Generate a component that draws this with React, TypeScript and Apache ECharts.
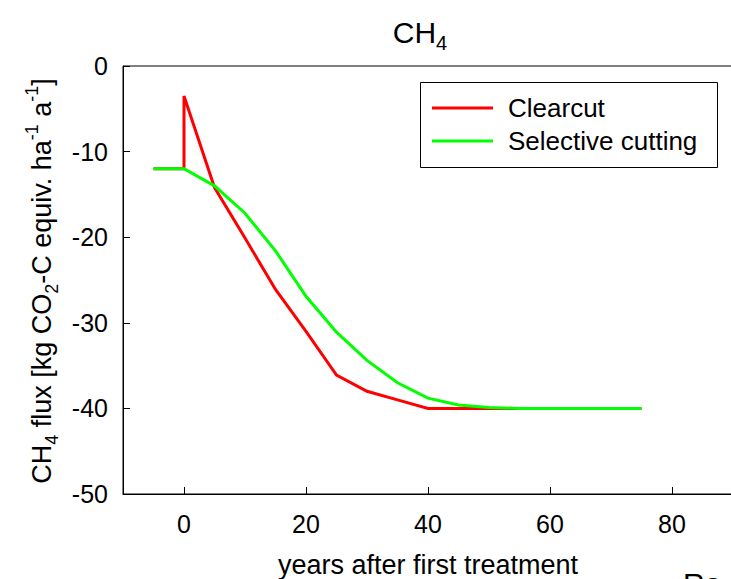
import React, { useEffect, useRef } from "react";
import * as echarts from "echarts";

const clearcutYears = [-5, 0, 0, 5, 10, 15, 20, 25, 30, 35, 40, 45, 50, 55, 60, 65, 70, 75];
const clearcutFlux = [-12, -12, -3.5, -14.2, -20.1, -26.1, -31, -36.1, -38, -39, -40, -40, -40, -40, -40, -40, -40, -40];
const selectiveYears = [-5, 0, 5, 10, 15, 20, 25, 30, 35, 40, 45, 50, 55, 60, 65, 70, 75];
const selectiveFlux = [-12, -12, -14, -17.2, -21.6, -26.9, -31.1, -34.4, -37, -38.8, -39.6, -39.9, -40, -40, -40, -40, -40];
const xTicks = [0, 20, 40, 60, 80];
const seriesNames = ["Clearcut", "Selective cutting"];
const seriesColors = ["#ff0000", "#00ff00"];

const FONT = "'Liberation Sans', Arial, Helvetica, sans-serif";

export default function App() {
  const ref = useRef<HTMLDivElement>(null);
  useEffect(() => {
    if (!ref.current) return;
    const chart = echarts.init(ref.current, null, { renderer: "svg" });
    const zip = (xs: number[], ys: number[]) => xs.map((x, i) => [x, ys[i]]);
    const sub = { fontSize: 18, lineHeight: 18, verticalAlign: "bottom", fontFamily: FONT, fill: "#000" };
    const sup = { fontSize: 18, lineHeight: 18, verticalAlign: "top", fontFamily: FONT, fill: "#000" };
    const norm = { fontSize: 27, lineHeight: 38, fontFamily: FONT, fill: "#000" };

    const legendItems: any[] = [];
    seriesNames.forEach((name, i) => {
      const y = 108 + i * 33;
      legendItems.push({
        type: "line",
        z: 20,
        shape: { x1: 432, y1: y, x2: 493, y2: y },
        style: { stroke: seriesColors[i], lineWidth: 3 },
      });
      legendItems.push({
        type: "text",
        z: 20,
        x: 508,
        y: y,
        style: { text: name, fontSize: 26, fontFamily: FONT, fill: "#000", verticalAlign: "middle" },
      });
    });

    chart.setOption({
      animation: false,
      backgroundColor: "#fff",
      grid: {
        left: 123,
        top: 66,
        width: 610,
        height: 428,
        show: true,
        borderColor: "#000",
        borderWidth: 1,
        backgroundColor: "transparent",
        outerBoundsMode: "none",
        containLabel: false,
      },
      xAxis: {
        type: "value",
        min: -10,
        max: 90,
        axisLine: { show: true, onZero: false, lineStyle: { color: "#000", width: 1 } },
        axisTick: { show: true, inside: true, length: 7, customValues: xTicks, lineStyle: { color: "#000" } },
        axisLabel: { customValues: xTicks, fontSize: 25, fontFamily: FONT, color: "#000", margin: 17 },
        splitLine: { show: false },
        name: "years after first treatment",
        nameLocation: "middle",
        nameGap: 57,
        nameTextStyle: { fontSize: 27, fontFamily: FONT, color: "#000" },
      },
      yAxis: {
        type: "value",
        min: -50,
        max: 0,
        interval: 10,
        axisLine: { show: true, onZero: false, lineStyle: { color: "#000", width: 1 } },
        axisTick: { show: true, inside: true, length: 7, lineStyle: { color: "#000" } },
        axisLabel: { fontSize: 25, fontFamily: FONT, color: "#000", margin: 15 },
        splitLine: { show: false },
      },
      graphic: [
        {
          type: "text",
          x: 420,
          y: 32,
          style: {
            text: "{n|CH}{s|4}",
            align: "center",
            verticalAlign: "middle",
            rich: {
              n: { fontSize: 30, lineHeight: 42, fontFamily: FONT, fill: "#000" },
              s: { fontSize: 20, lineHeight: 20, verticalAlign: "bottom", fontFamily: FONT, fill: "#000" },
            },
          },
        },
        {
          type: "text",
          x: 42,
          y: 281,
          rotation: Math.PI / 2,
          style: {
            text: "{n|CH}{b|4}{n| flux [kg CO}{b|2}{n|-C equiv. ha}{p|-1}{n| a}{p|-1}{n|]}",
            align: "center",
            verticalAlign: "middle",
            rich: { n: norm, b: sub, p: sup },
          },
        },
        {
          type: "rect",
          shape: { x: 420.5, y: 82.5, width: 297, height: 85 },
          style: { fill: "#fff", stroke: "#000", lineWidth: 1 },
          z: 10,
        },
        ...legendItems,
        {
          type: "text",
          left: 683,
          top: 568,
          style: { text: "Ra", fontSize: 30, fontFamily: FONT, fill: "#000" },
        },
      ],
      series: seriesNames.map((name, i) => ({
        name,
        type: "line",
        data: i === 0 ? zip(clearcutYears, clearcutFlux) : zip(selectiveYears, selectiveFlux),
        showSymbol: false,
        symbol: "none",
        color: seriesColors[i],
        lineStyle: { color: seriesColors[i], width: 3, join: "miter" },
      })),
    });
    return () => chart.dispose();
  }, []);
  return (
    <div
      ref={ref}
      style={{ position: "fixed", left: 0, top: 0, width: 731, height: 579, background: "#fff" }}
    />
  );
}
